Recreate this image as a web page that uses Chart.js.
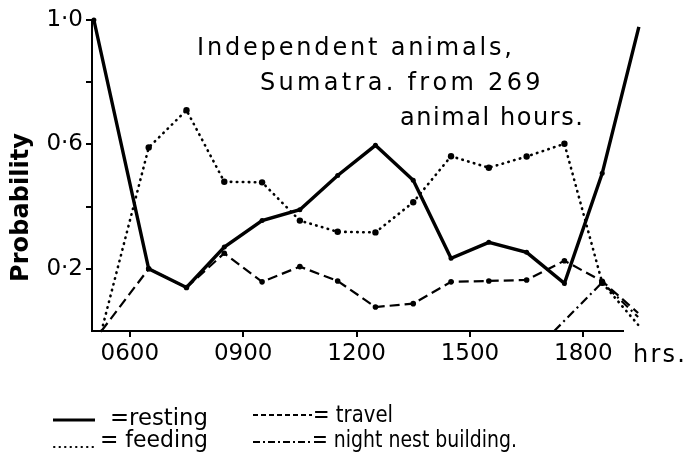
<!DOCTYPE html>
<html><head><meta charset="utf-8">
<script src="https://cdn.jsdelivr.net/npm/chart.js@4/dist/chart.umd.min.js"></script>
<style>html,body{margin:0;padding:0;background:#fff;overflow:hidden}canvas{display:block}</style>
</head><body>
<canvas id="c" width="694" height="465"></canvas>
<script>
// ---- data (hours of day, probability) ----
const hours = [6.5,7.5,8.5,9.5,10.5,11.5,12.5,13.5,14.5,15.5,16.5,17.5,18.5];
const restingHours = [5.05, ...hours, 19.47];
const restingValues = [1.0,0.20,0.14,0.27,0.355,0.39,0.50,0.597,0.485,0.234,0.285,0.253,0.153,0.507,0.978];
const feedingHours = [5.25, ...hours, 19.45];
const feedingValues = [0,0.59,0.71,0.48,0.478,0.355,0.319,0.317,0.414,0.562,0.525,0.561,0.602,0.155,0.02];
const travelHours = [5.25, ...hours, 19.45];
const travelValues = [0,0.20,0.14,0.25,0.158,0.207,0.161,0.077,0.088,0.158,0.161,0.164,0.226,0.16,0.058];
const nestHours = [17.23,18.5,19.45];
const nestValues = [0,0.156,0.045];
const xTickHours = [6,9,12,15,18];
const xTickLabels = ['0600','0900','1200','1500','1800'];
const yTickValues = [0.2,0.4,0.6,0.8,1.0];
const yLabelled = [0.2,0.6,1.0];
const yLabelText = ['0·2','0·6','1·0'];
const noteLines = ['Independent animals,','Sumatra. from 269','animal hours.'];
const legendLabels = ['=resting','= travel','= feeding','= night nest building.'];

const pts = (xs, ys) => xs.map((x,i)=>({x, y: ys[i]}));
const FONT = '"DejaVu Sans", sans-serif';

function fitText(ctx, text, x, y, w, font){
  ctx.font = font;
  const natural = ctx.measureText(text).width;
  if (natural >= w){
    ctx.save(); ctx.translate(x,y); ctx.scale(w/natural,1); ctx.fillText(text,0,0); ctx.restore();
  } else {
    const chars = [...text];
    const extra = (w - natural) / Math.max(1, chars.length - 1);
    let cx = x;
    for (const ch of chars){ ctx.fillText(ch, cx, y); cx += ctx.measureText(ch).width + extra; }
  }
}

const extras = {
  id: 'extras',
  afterDraw(chart){
    const ctx = chart.ctx;
    ctx.save();
    ctx.fillStyle = '#000';
    ctx.textBaseline = 'alphabetic';
    ctx.textAlign = 'left';
    // annotation
    fitText(ctx, noteLines[0], 197, 55, 315, '24px ' + FONT);
    fitText(ctx, noteLines[1], 260, 90, 280, '24px ' + FONT);
    fitText(ctx, noteLines[2], 400, 125, 183, '24px ' + FONT);
    // hrs.
    fitText(ctx, 'hrs.', 633, 362, 52, '24px ' + FONT);
    // y title
    ctx.save();
    ctx.translate(28, 282);
    ctx.rotate(-Math.PI/2);
    fitText(ctx, 'Probability', 0, 0, 149, 'bold 24px ' + FONT);
    ctx.restore();
    // legend
    ctx.strokeStyle = '#000';
    const seg = (x1,x2,y,w,dash,cap) => {
      ctx.beginPath(); ctx.lineWidth = w; ctx.setLineDash(dash); ctx.lineCap = cap || 'butt';
      ctx.moveTo(x1,y); ctx.lineTo(x2,y); ctx.stroke();
    };
    seg(53,95,420,3,[]);
    seg(253,312,415,2,[5,3]);
    seg(54,97,447,2,[0.5,5],'round');
    seg(253,310,442,2,[7,3,2,3]);
    ctx.setLineDash([]);
    fitText(ctx, legendLabels[0], 110, 425, 98, '23px ' + FONT);
    fitText(ctx, legendLabels[1], 313, 422, 80, '23px ' + FONT);
    fitText(ctx, legendLabels[2], 100, 447, 108, '23px ' + FONT);
    fitText(ctx, legendLabels[3], 312, 447, 205, '23px ' + FONT);
    ctx.restore();
  }
};

const axisGrid = {display:true, drawOnChartArea:false, drawTicks:true, tickLength:6, color:'#000', lineWidth:2};

new Chart(document.getElementById('c'), {
  type: 'line',
  data: {
    datasets: [
      {label:'resting', data: pts(restingHours, restingValues), borderColor:'#000', backgroundColor:'#000',
       borderWidth:3.4, pointRadius:2.5, pointBorderWidth:0, clip:false, tension:0},
      {label:'feeding', data: pts(feedingHours, feedingValues), borderColor:'#000', backgroundColor:'#000',
       borderWidth:2.6, borderDash:[0.5,5.5], borderCapStyle:'round', clip:false, tension:0,
       pointRadius: c => (c.dataIndex === 0 || c.dataIndex === feedingHours.length-1) ? 0 : 3.2, pointBorderWidth:0},
      {label:'travel', data: pts(travelHours, travelValues), borderColor:'#000', backgroundColor:'#000',
       borderWidth:2.2, borderDash:[10,5], clip:false, tension:0,
       pointRadius: c => (c.dataIndex === 0 || c.dataIndex === travelHours.length-1) ? 0 : 2.8, pointBorderWidth:0},
      {label:'night nest building', data: pts(nestHours, nestValues), borderColor:'#000', backgroundColor:'#000',
       borderWidth:2.2, borderDash:[9,4,2,4], clip:false, tension:0,
       pointRadius: c => c.dataIndex === 1 ? 3 : 0, pointBorderWidth:0}
    ]
  },
  options: {
    responsive:false, animation:false, devicePixelRatio:1,
    layout:{padding:{top:20, right:71, left:0, bottom:0}},
    plugins:{legend:{display:false}, tooltip:{enabled:false}},
    scales:{
      x:{type:'linear', min:5.0, max:19.05,
         afterBuildTicks: s => { s.ticks = xTickHours.map(v=>({value:v})); },
         afterFit: s => { s.height = 134; },
         ticks:{callback: v => xTickLabels[xTickHours.indexOf(v)] ?? '', font:{family:'DejaVu Sans', size:23}, color:'#000', padding:3, maxRotation:0, autoSkip:false},
         grid: axisGrid,
         border:{display:true, color:'#000', width:2}},
      y:{type:'linear', min:0, max:1.0,
         afterBuildTicks: s => { s.ticks = yTickValues.map(v=>({value:v})); },
         afterFit: s => { s.width = 92; },
         ticks:{callback: v => { const i = yLabelled.findIndex(t=>Math.abs(t-v)<1e-6); return i<0 ? '' : yLabelText[i]; },
                font:{family:'DejaVu Sans', size:23}, color:'#000', padding:3},
         grid: axisGrid,
         border:{display:true, color:'#000', width:2}}
    }
  },
  plugins:[extras]
});
</script>
</body></html>
